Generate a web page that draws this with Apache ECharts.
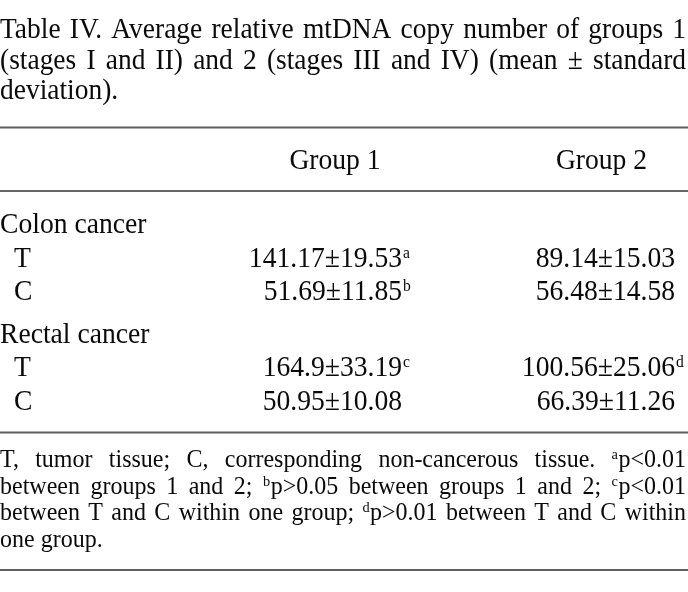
<!DOCTYPE html>
<html><head><meta charset="utf-8">
<script src="https://cdn.jsdelivr.net/npm/echarts@6/dist/echarts.min.js"></script>
<style>html,body{margin:0;padding:0;background:#fff}#c{width:688px;height:592px}</style>
</head><body><div id="c"></div>
<script>
// ---------- data ----------
const captionText = [
  'Table IV. Average relative mtDNA copy number of groups 1',
  '(stages I and II) and 2 (stages III and IV) (mean \u00b1 standard',
  'deviation).'
];
const groupHeaders = ['Group 1', 'Group 2'];
const sections = ['Colon cancer', 'Rectal cancer'];
const subRows = ['T', 'C'];
const colonGroup1 = ['141.17\u00b119.53', '51.69\u00b111.85'];
const colonGroup1Marks = ['a', 'b'];
const colonGroup2 = ['89.14\u00b115.03', '56.48\u00b114.58'];
const colonGroup2Marks = ['', ''];
const rectalGroup1 = ['164.9\u00b133.19', '50.95\u00b110.08'];
const rectalGroup1Marks = ['c', ''];
const rectalGroup2 = ['100.56\u00b125.06', '66.39\u00b111.26'];
const rectalGroup2Marks = ['d', ''];
const footnoteText = [
  'T, tumor tissue; C, corresponding non-cancerous tissue. ^ap<0.01',
  'between groups 1 and 2; ^bp>0.05 between groups 1 and 2; ^cp<0.01',
  'between T and C within one group; ^dp>0.01 between T and C within',
  'one group.'
];

// ---------- style / layout ----------
const FAMILY = '"Liberation Serif","Times New Roman",serif';
const INK = '#0a0a0a';
const RULE = '#5e5e5e';
const MID = 0.27; // baseline -> em-middle offset (fraction of font size)
const W = 688;
const caption = { fs: 30, sx: 0.915, supFs: 17, supRise: 9, x0: 0, x1: 686, base: 38.5, pitch: 30.5, justify: [true, true, false] };
const foot = { fs: 25, sx: 0.96, supFs: 15, supRise: 8, x0: 0, x1: 686, base: 467, pitch: 26.7, justify: [true, true, true, false] };
const body = { fs: 30, sx: 0.92, supFs: 17, supRise: 9, sectionX: 0, indentX: 14, colRight: [402, 675], headerCenter: [335, 601.5], headerBase: 169.5 };
const sectionGrids = [ { top: 216.1, height: 101.25 }, { top: 326.25, height: 100.5 } ];
const rules = [ { y: 127.5, w: 2, c: RULE }, { y: 191, w: 1.6, c: '#333' }, { y: 432.5, w: 2, c: RULE }, { y: 570, w: 2, c: RULE } ];

const mctx = document.createElement('canvas').getContext('2d');
function measure(s, fs) { mctx.font = fs + 'px ' + FAMILY; return mctx.measureText(s).width; }
function textEl(s, x, base, fs, align, sx) {
  return { type: 'text', x: x, y: base - MID * fs, scaleX: sx || 1, silent: true,
    style: { text: s, font: fs + 'px ' + FAMILY, fill: INK, align: align || 'left', verticalAlign: 'middle' } };
}
function paragraph(lines, cfg) {
  const els = [];
  lines.forEach((line, li) => {
    const base = cfg.base + li * cfg.pitch;
    const toks = line.split(' ').map(w => {
      let sup = '', main = w;
      if (w[0] === '^') { sup = w[1]; main = w.slice(2); }
      const sw = sup ? (measure(sup, cfg.supFs) + 0.5) * cfg.sx : 0;
      return { sup, main, sw, w: sw + measure(main, cfg.fs) * cfg.sx };
    });
    const total = toks.reduce((a, t) => a + t.w, 0);
    const gap = cfg.justify[li] && toks.length > 1 ? (cfg.x1 - cfg.x0 - total) / (toks.length - 1) : measure(' ', cfg.fs) * cfg.sx;
    let x = cfg.x0;
    toks.forEach(t => {
      if (t.sup) els.push(textEl(t.sup, x, base - cfg.supRise, cfg.supFs, 'left', cfg.sx));
      els.push(textEl(t.main, x + t.sw, base, cfg.fs, 'left', cfg.sx));
      x += t.w + gap;
    });
  });
  return els;
}

const graphics = [];
paragraph(captionText, caption).forEach(e => graphics.push(e));
paragraph(footnoteText, foot).forEach(e => graphics.push(e));
groupHeaders.forEach((h, i) => graphics.push(textEl(h, body.headerCenter[i], body.headerBase, body.fs, 'center', body.sx)));
rules.forEach(r => graphics.push({ type: 'line', silent: true, shape: { x1: 0, y1: r.y, x2: W, y2: r.y }, style: { stroke: r.c, lineWidth: r.w } }));

// per-section cell tables: row 0 = section title, rows 1.. = T / C
const sectionValues = [
  { g1: colonGroup1, m1: colonGroup1Marks, g2: colonGroup2, m2: colonGroup2Marks },
  { g1: rectalGroup1, m1: rectalGroup1Marks, g2: rectalGroup2, m2: rectalGroup2Marks }
];
const rowNames = ['title'].concat(subRows);

function makeRender(si) {
  const v = sectionValues[si];
  return function (params, api) {
    const col = api.value(0), row = api.value(1);
    let x, txt, mark = '', align = 'left';
    if (col === 0) {
      x = row === 0 ? body.sectionX : body.indentX;
      txt = row === 0 ? sections[si] : subRows[row - 1];
    } else {
      x = body.colRight[col - 1]; align = 'right';
      txt = col === 1 ? v.g1[row - 1] : v.g2[row - 1];
      mark = col === 1 ? v.m1[row - 1] : v.m2[row - 1];
    }
    const p = api.coord([x, row]);
    const children = [textEl(txt, p[0], p[1], body.fs, align, body.sx)];
    if (mark) children.push(textEl(mark, p[0] + 1, p[1] - body.supRise, body.supFs, 'left', body.sx));
    return { type: 'group', children: children };
  };
}

const grids = [], xAxes = [], yAxes = [], series = [];
sections.forEach((s, si) => {
  grids.push({ left: 0, right: 0, top: sectionGrids[si].top, height: sectionGrids[si].height });
  xAxes.push({ type: 'value', min: 0, max: W, show: false, gridIndex: si });
  yAxes.push({ type: 'category', data: rowNames, inverse: true, show: false, gridIndex: si });
  const cells = [[0, 0]];
  subRows.forEach((r, ri) => { cells.push([0, ri + 1], [1, ri + 1], [2, ri + 1]); });
  series.push({ type: 'custom', xAxisIndex: si, yAxisIndex: si, data: cells, silent: true, renderItem: makeRender(si) });
});

const chart = echarts.init(document.getElementById('c'), null, { renderer: 'canvas' });
chart.setOption({
  animation: false,
  backgroundColor: '#fff',
  grid: grids, xAxis: xAxes, yAxis: yAxes,
  graphic: graphics,
  series: series
});
</script>
</body></html>
